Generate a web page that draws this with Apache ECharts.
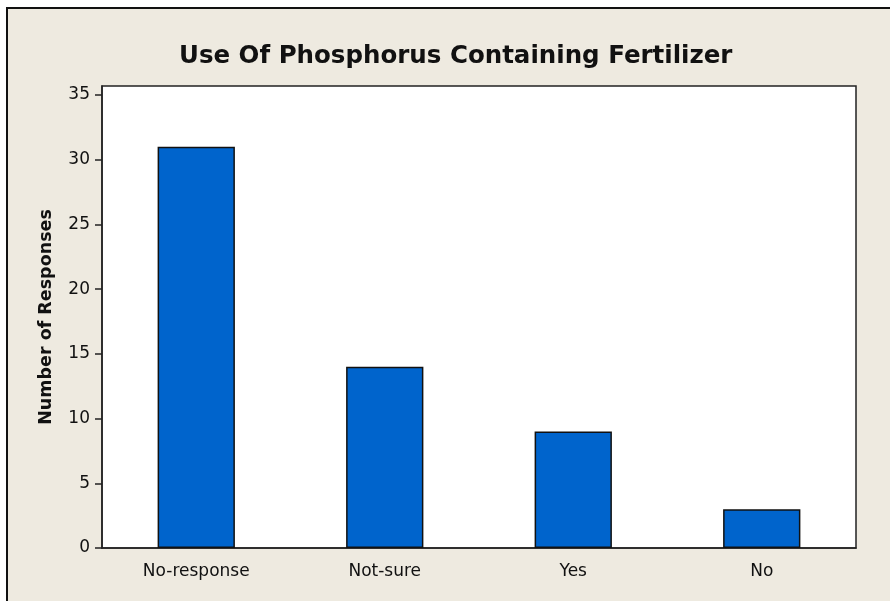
<!DOCTYPE html>
<html>
<head>
<meta charset="utf-8">
<script src="https://cdn.jsdelivr.net/npm/echarts@6/dist/echarts.min.js"></script>
<style>
  html, body { margin: 0; padding: 0; background: #ffffff; }
  #chart { width: 890px; height: 601px; }
</style>
</head>
<body>
<div id="chart"></div>
<script>
// Survey responses on phosphorus fertilizer use
const categories = ['No-response', 'Not-sure', 'Yes', 'No'];
const responses = [31, 14, 9, 3];
const yTickValues = [0, 5, 10, 15, 20, 25, 30, 35];

const chart = echarts.init(document.getElementById('chart'), null, { renderer: 'canvas' });
const labelFont = '"DejaVu Sans", Verdana, sans-serif';

chart.setOption({
  animation: false,
  backgroundColor: '#ffffff',
  graphic: [{
    type: 'rect',
    z: -100,
    silent: true,
    shape: { x: 7, y: 8, width: 900, height: 700 },
    style: { fill: '#eeeae0', stroke: '#111111', lineWidth: 2 }
  }],
  title: {
    text: 'Use Of Phosphorus Containing Fertilizer',
    left: 174,
    top: 39,
    textStyle: { fontFamily: labelFont, fontWeight: 'bold', fontSize: 24.5, color: '#111111' }
  },
  grid: {
    left: 102, top: 86, right: 34, bottom: 53,
    show: true,
    backgroundColor: '#ffffff',
    borderColor: '#222222',
    borderWidth: 1.5
  },
  xAxis: {
    type: 'category',
    data: categories,
    axisLine: { lineStyle: { color: '#222222', width: 1.5 } },
    axisTick: { alignWithLabel: true, length: 6, lineStyle: { color: '#222222', width: 1.5 } },
    axisLabel: { margin: 15, fontFamily: labelFont, fontSize: 17, color: '#111111' }
  },
  yAxis: {
    type: 'value',
    min: 0,
    max: 35.7,
    interval: 5,
    name: 'Number of Responses',
    nameLocation: 'middle',
    nameGap: 47,
    nameTextStyle: { fontFamily: labelFont, fontWeight: 'bold', fontSize: 17.5, color: '#111111' },
    splitLine: { show: false },
    axisLine: { show: true, lineStyle: { color: '#222222', width: 1.5 } },
    axisTick: { show: true, length: 7, customValues: yTickValues, lineStyle: { color: '#222222', width: 1.5 } },
    axisLabel: { margin: 12, customValues: yTickValues, fontFamily: labelFont, fontSize: 17, color: '#111111' }
  },
  series: [{
    type: 'bar',
    data: responses,
    barWidth: '41%',
    itemStyle: { color: '#0064cc', borderColor: '#111111', borderWidth: 1.5 }
  }]
});
</script>
</body>
</html>
